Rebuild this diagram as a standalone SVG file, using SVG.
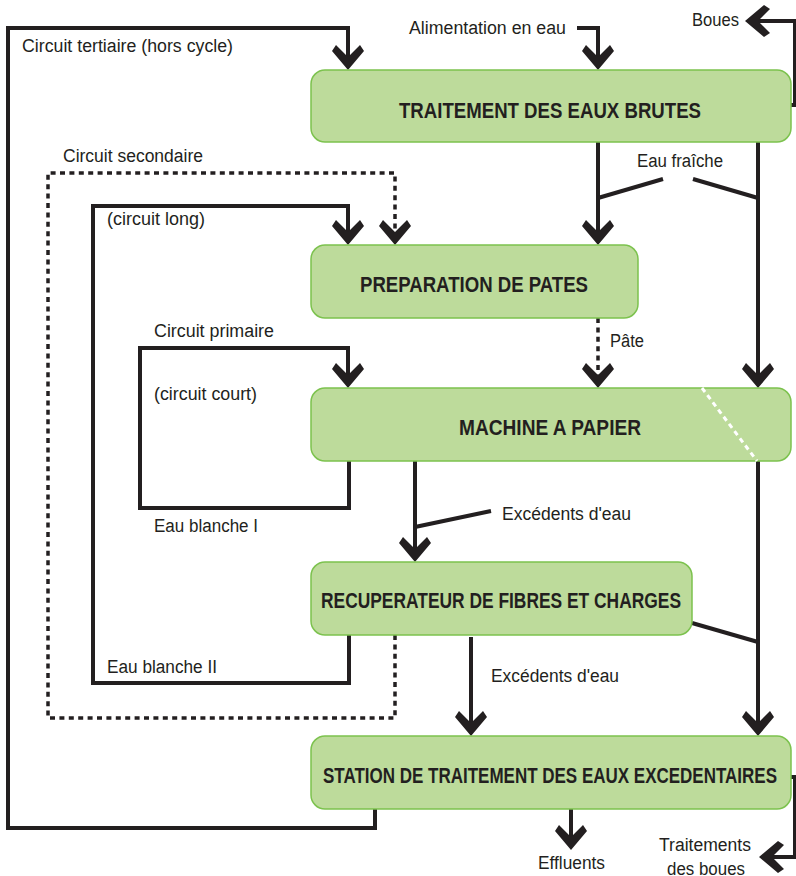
<svg xmlns="http://www.w3.org/2000/svg" xmlns:xlink="http://www.w3.org/1999/xlink" width="796" height="876" viewBox="0 0 796 876">
<style>
.box{fill:#bddb9b;stroke:#7cc24e;stroke-width:1.5}
.bt{font-family:"Liberation Sans",Arial,sans-serif;font-weight:bold;font-size:22px;fill:#231f20}
.lb{font-family:"Liberation Sans",Arial,sans-serif;font-size:18px;fill:#231f20}
.ln{fill:none;stroke:#231f20;stroke-width:4;stroke-linejoin:miter}
.dt{fill:none;stroke:#231f20;stroke-width:3.5;stroke-dasharray:5 4.4}
.wd{fill:none;stroke:#ffffff;stroke-width:3;stroke-dasharray:5 4}
.ah{fill:#231f20}
</style>
<defs>
<polygon id="ah" points="0,0 -16,-19 -12,-25 0,-13 12,-25 16,-19"/>
</defs>
<rect width="796" height="876" fill="#ffffff"/>

<g id="connectors">
<!-- tertiary -->
<polyline class="ln" points="375,809 375,828 8,828 8,28 348,28 348,60"/>
<!-- alimentation -->
<polyline class="ln" points="577,28 598,28 598,60"/>
<!-- boues -->
<polyline class="ln" points="791,105 795,105 795,21 755,21"/>
<!-- fresh water -->
<line class="ln" x1="598" y1="142" x2="598" y2="235"/>
<line class="ln" x1="758" y1="142" x2="758" y2="378"/>
<line class="ln" x1="598" y1="198" x2="663" y2="179"/>
<line class="ln" x1="693" y1="179" x2="758" y2="198"/>
<!-- pate -->
<line class="dt" x1="598" y1="318" x2="598" y2="378"/>
<!-- secondaire -->
<polyline class="dt" points="395,635 395,718 48,718 48,173 395,173 395,235"/>
<!-- circuit long -->
<polyline class="ln" points="349,635 349,683 93,683 93,206 348,206 348,235"/>
<!-- circuit primaire -->
<polyline class="ln" points="349,461 349,508 140,508 140,348 348,348 348,378"/>
<!-- machine to recuperateur -->
<line class="ln" x1="415" y1="461" x2="415" y2="552"/>
<line class="ln" x1="415" y1="527" x2="491" y2="511"/>
<!-- right vertical -->
<line class="ln" x1="758" y1="461" x2="758" y2="726"/>
<line class="ln" x1="692" y1="623" x2="758" y2="642"/>
<!-- recup to station -->
<line class="ln" x1="471" y1="637" x2="471" y2="726"/>
<!-- effluents -->
<line class="ln" x1="571" y1="809" x2="571" y2="840"/>
<!-- boues treatment -->
<polyline class="ln" points="791,777 795,777 795,857 769,857"/>

<!-- arrowheads -->
<use href="#ah" class="ah" transform="translate(348,70)"/>
<use href="#ah" class="ah" transform="translate(598,70)"/>
<use href="#ah" class="ah" transform="translate(745,21) rotate(90)"/>
<use href="#ah" class="ah" transform="translate(598,245)"/>
<use href="#ah" class="ah" transform="translate(395,245)"/>
<use href="#ah" class="ah" transform="translate(348,245)"/>
<use href="#ah" class="ah" transform="translate(598,388)"/>
<use href="#ah" class="ah" transform="translate(758,388)"/>
<use href="#ah" class="ah" transform="translate(348,388)"/>
<use href="#ah" class="ah" transform="translate(415,562)"/>
<use href="#ah" class="ah" transform="translate(471,736)"/>
<use href="#ah" class="ah" transform="translate(758,736)"/>
<use href="#ah" class="ah" transform="translate(571,850)"/>
<use href="#ah" class="ah" transform="translate(759,857) rotate(90)"/>
</g>

<g id="n1">
<rect class="box" x="311" y="70" width="480" height="72" rx="14"/>
<text class="bt" x="399" y="118" textLength="302" lengthAdjust="spacingAndGlyphs">TRAITEMENT DES EAUX BRUTES</text>
</g>
<g id="n2">
<rect class="box" x="311" y="245" width="327" height="73" rx="14"/>
<text class="bt" x="360" y="292" textLength="228" lengthAdjust="spacingAndGlyphs">PREPARATION DE PATES</text>
</g>
<g id="n3">
<rect class="box" x="311" y="388" width="480" height="73" rx="14"/>
<text class="bt" x="459" y="435" textLength="182" lengthAdjust="spacingAndGlyphs">MACHINE A PAPIER</text>
<line class="wd" x1="702" y1="388" x2="757" y2="461"/>
</g>
<g id="n4">
<rect class="box" x="311" y="562" width="381" height="73" rx="14"/>
<text class="bt" x="321" y="608" textLength="360" lengthAdjust="spacingAndGlyphs">RECUPERATEUR DE FIBRES ET CHARGES</text>
</g>
<g id="n5">
<rect class="box" x="311" y="736" width="480" height="73" rx="14"/>
<text class="bt" x="323" y="783" textLength="454" lengthAdjust="spacingAndGlyphs">STATION DE TRAITEMENT DES EAUX EXCEDENTAIRES</text>
</g>

<g id="labels">
<text class="lb" x="409" y="34" textLength="157" lengthAdjust="spacingAndGlyphs">Alimentation en eau</text>
<text class="lb" x="692" y="26" textLength="47" lengthAdjust="spacingAndGlyphs">Boues</text>
<text class="lb" x="22" y="52" textLength="211" lengthAdjust="spacingAndGlyphs">Circuit tertiaire (hors cycle)</text>
<text class="lb" x="63" y="162" textLength="140" lengthAdjust="spacingAndGlyphs">Circuit secondaire</text>
<text class="lb" x="107" y="225" textLength="98" lengthAdjust="spacingAndGlyphs">(circuit long)</text>
<text class="lb" x="637" y="167" textLength="86" lengthAdjust="spacingAndGlyphs">Eau fraîche</text>
<text class="lb" x="610" y="347" textLength="34" lengthAdjust="spacingAndGlyphs">Pâte</text>
<text class="lb" x="154" y="337" textLength="120" lengthAdjust="spacingAndGlyphs">Circuit primaire</text>
<text class="lb" x="154" y="400" textLength="103" lengthAdjust="spacingAndGlyphs">(circuit court)</text>
<text class="lb" x="154" y="532" textLength="104" lengthAdjust="spacingAndGlyphs">Eau blanche I</text>
<text class="lb" x="502" y="520" textLength="129" lengthAdjust="spacingAndGlyphs">Excédents d'eau</text>
<text class="lb" x="491" y="682" textLength="128" lengthAdjust="spacingAndGlyphs">Excédents d'eau</text>
<text class="lb" x="107" y="673" textLength="110" lengthAdjust="spacingAndGlyphs">Eau blanche II</text>
<text class="lb" x="538" y="869" textLength="67" lengthAdjust="spacingAndGlyphs">Effluents</text>
<text class="lb" x="659" y="851" textLength="92" lengthAdjust="spacingAndGlyphs">Traitements</text>
<text class="lb" x="667" y="875" textLength="78" lengthAdjust="spacingAndGlyphs">des boues</text>
</g>
</svg>
